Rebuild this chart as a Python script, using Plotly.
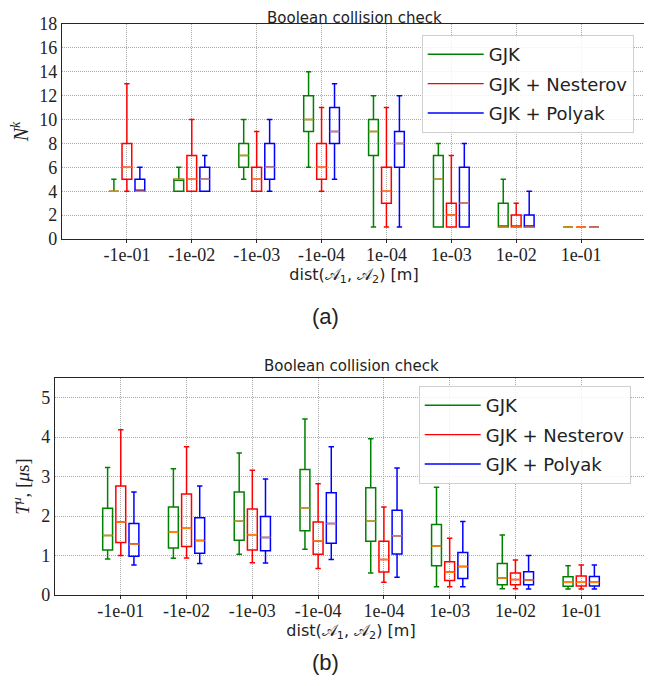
import plotly.graph_objects as go

categories = ["-1e-01", "-1e-02", "-1e-03", "-1e-04", "1e-04", "1e-03", "1e-02", "1e-01"]
methods = ["GJK", "GJK + Nesterov", "GJK + Polyak"]
colors = ["#008000", "#ff0000", "#0000ff"]
median_color = "#ff7f0e"

# (a) number of iterations N^k : lower whisker, q1, median, q3, upper whisker
nk_lower = [[4, 4, 5, 6, 1, 1, 1, 1], [4, 4, 4, 4, 1, 1, 1, 1], [4, 4, 4, 5, 1, 1, 1, 1]]
nk_q1 = [[4, 4, 6, 9, 7, 1, 1, 1], [5, 4, 4, 5, 3, 1, 1, 1], [4, 4, 5, 8, 6, 1, 1, 1]]
nk_med = [[4, 5, 7, 10, 9, 5, 1, 1], [6, 5, 5, 6, 4, 2, 1, 1], [4, 5, 6, 9, 8, 3, 1, 1]]
nk_q3 = [[4, 5, 8, 12, 10, 7, 3, 1], [8, 7, 6, 8, 6, 3, 2, 1], [5, 6, 8, 11, 9, 6, 2, 1]]
nk_upper = [[5, 6, 10, 14, 12, 8, 5, 1], [13, 10, 9, 11, 11, 7, 3, 1], [6, 7, 10, 13, 12, 8, 4, 1]]

# (b) time T^mu [us]
t_lower = [[0.91, 0.93, 1.03, 1.16, 0.56, 0.21, 0.16, 0.15],
           [1.00, 0.94, 0.82, 0.67, 0.32, 0.21, 0.16, 0.15],
           [0.76, 0.80, 0.81, 0.90, 0.45, 0.21, 0.15, 0.15]]
t_q1 = [[1.14, 1.19, 1.39, 1.63, 1.36, 0.74, 0.26, 0.22],
        [1.33, 1.23, 1.14, 1.03, 0.58, 0.37, 0.26, 0.23],
        [0.98, 1.06, 1.12, 1.31, 1.04, 0.42, 0.26, 0.23]]
t_med = [[1.51, 1.59, 1.87, 2.21, 1.87, 1.24, 0.43, 0.32],
         [1.85, 1.69, 1.53, 1.37, 0.90, 0.58, 0.39, 0.32],
         [1.29, 1.38, 1.46, 1.81, 1.50, 0.72, 0.38, 0.32]]
t_q3 = [[2.20, 2.23, 2.61, 3.18, 2.72, 1.79, 0.80, 0.46],
        [2.76, 2.56, 2.18, 1.85, 1.36, 0.84, 0.56, 0.48],
        [1.81, 1.96, 1.99, 2.59, 2.15, 1.08, 0.59, 0.47]]
t_upper = [[3.23, 3.20, 3.60, 4.46, 3.96, 2.73, 1.52, 0.74],
           [4.19, 3.76, 3.16, 2.82, 2.23, 1.44, 0.89, 0.76],
           [2.61, 2.76, 2.94, 3.76, 3.22, 1.86, 1.00, 0.76]]

# page body adds an 8px offset; figure sized to fill the rest of the window
OFF = 8
W, H = 652 - OFF, 686 - OFF


def px(x):
    return (x - OFF) / W


def py(y):
    return 1 - (y - OFF) / H


offsets = [-0.2, 0.0, 0.2]
box_w = 0.15

fig = go.Figure()


def add_panel(lower, q1, med, q3, upper, xa, ya, legend):
    for m in range(3):
        xs = [i + offsets[m] for i in range(len(categories))]
        fig.add_trace(go.Box(
            x=xs, q1=q1[m], median=med[m], q3=q3[m],
            lowerfence=lower[m], upperfence=upper[m],
            width=box_w, whiskerwidth=0.55, boxpoints=False,
            line=dict(color=colors[m], width=1.5), fillcolor="rgba(0,0,0,0)",
            showlegend=False, hoverinfo="skip", xaxis=xa, yaxis=ya))
    for m in range(3):
        mx, my = [], []
        for i in range(len(categories)):
            c = i + offsets[m]
            mx += [c - box_w / 2, c + box_w / 2, None]
            my += [med[m][i], med[m][i], None]
        fig.add_trace(go.Scatter(x=mx, y=my, mode="lines",
                                 line=dict(color=median_color, width=1.5),
                                 showlegend=False, hoverinfo="skip", xaxis=xa, yaxis=ya))
    for m in range(3):
        fig.add_trace(go.Scatter(x=[None], y=[None], mode="lines", name=methods[m],
                                 line=dict(color=colors[m], width=1.4),
                                 legend=legend, legendgroup=f"{legend}-{methods[m]}",
                                 xaxis=xa, yaxis=ya))


add_panel(nk_lower, nk_q1, nk_med, nk_q3, nk_upper, "x", "y", "legend")
add_panel(t_lower, t_q1, t_med, t_q3, t_upper, "x2", "y2", "legend2")

serif = "Liberation Serif"
sans = "DejaVu Sans"
axis_common = dict(showgrid=True, gridcolor="#a8a8a8", griddash="1px,1px", gridwidth=1,
                   showline=True, linecolor="#262626", linewidth=1.3, mirror=True,
                   zeroline=False, automargin=False)
xaxis_extra = dict(ticks="outside", ticklen=3, tickcolor="#262626", ticklabelstandoff=-4)
xtitle = "dist(𝒜<sub>1</sub>, 𝒜<sub>2</sub>) [m]"
legend_common = dict(xanchor="left", yanchor="top",
                     bgcolor="rgba(255,255,255,0.85)", bordercolor="#d0d0d0", borderwidth=1,
                     font=dict(family=sans, size=18, color="#222"), tracegroupgap=3,
                     itemwidth=56)

fig.update_layout(
    width=W, height=H, margin=dict(l=0, r=0, t=0, b=0),
    paper_bgcolor="white", plot_bgcolor="white",
    xaxis=dict(domain=[px(62), px(646)], anchor="y", range=[-1, 8],
               tickvals=list(range(len(categories))), ticktext=categories,
               tickfont=dict(family=serif, size=18, color="#222"),
               title=dict(text=xtitle, font=dict(family=sans, size=16, color="#222"), standoff=0),
               **axis_common, **xaxis_extra),
    yaxis=dict(domain=[py(239), py(24)], anchor="x", range=[0, 18], dtick=2,
               tickfont=dict(family=serif, size=18, color="#222"), ticks="",
               title=dict(text="<i>N<sup>k</sup></i>", font=dict(family=serif, size=20, color="#222"), standoff=6),
               **axis_common),
    xaxis2=dict(domain=[px(55), px(647)], anchor="y2", range=[-1, 8],
                tickvals=list(range(len(categories))), ticktext=categories,
                tickfont=dict(family=serif, size=18, color="#222"),
                title=dict(text=xtitle, font=dict(family=sans, size=16, color="#222"), standoff=0),
                **axis_common, **xaxis_extra),
    yaxis2=dict(domain=[py(595), py(378)], anchor="x2", range=[0, 5.5], dtick=1,
                tickfont=dict(family=serif, size=18, color="#222"), ticks="",
                title=dict(text="<i>T<sup>μ</sup></i>, [<i>μ</i>s]", font=dict(family=serif, size=19, color="#222"), standoff=6),
                **axis_common),
    legend=dict(x=px(421.7), y=py(35), **legend_common),
    legend2=dict(x=px(418.7), y=py(386), **legend_common),
    annotations=[
        dict(text="Boolean collision check", x=px((62 + 646) / 2), y=1.0,
             xref="paper", yref="paper", xanchor="center", yanchor="top", showarrow=False,
             borderpad=0, font=dict(family=sans, size=15, color="#222")),
        dict(text="Boolean collision check", x=px((55 + 647) / 2), y=py(377),
             xref="paper", yref="paper", xanchor="center", yanchor="bottom", showarrow=False,
             font=dict(family=sans, size=15, color="#222")),
        dict(text="(a)", x=px(325), y=py(316), xref="paper", yref="paper",
             xanchor="center", yanchor="middle", showarrow=False,
             font=dict(family="Liberation Sans", size=22, color="#222")),
        dict(text="(b)", x=px(325), y=py(662), xref="paper", yref="paper",
             xanchor="center", yanchor="middle", showarrow=False,
             font=dict(family="Liberation Sans", size=22, color="#222")),
    ],
)

fig.write_html("out.html")
